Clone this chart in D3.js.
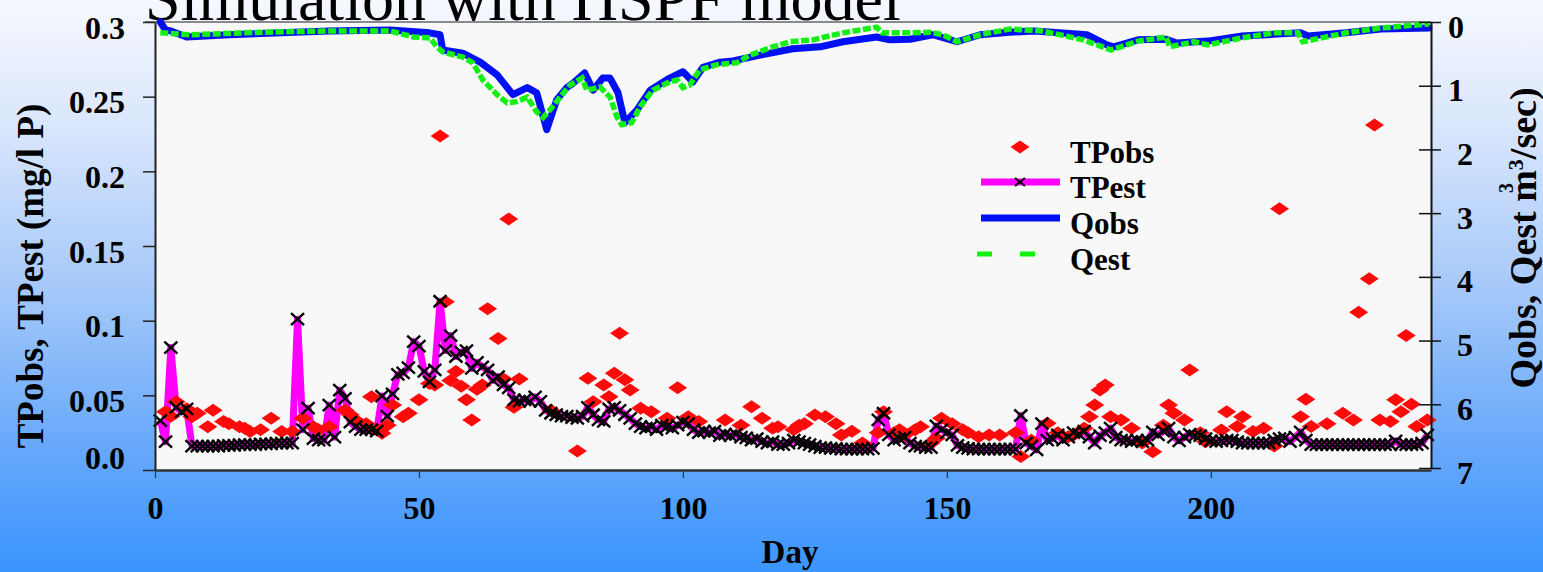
<!DOCTYPE html>
<html>
<head>
<meta charset="utf-8">
<script src="https://cdn.jsdelivr.net/npm/d3@7"></script>
<style>
  html, body { margin: 0; padding: 0; overflow: hidden; }
  svg { display: block; }
  text { font-family: "Liberation Serif", "Times New Roman", Times, serif; }
</style>
</head>
<body>
<svg id="chart" width="1543" height="572"></svg>
<script>
// ---- data ----
const xTicks = [0, 50, 100, 150, 200];
const tpTicks = [0, 0.05, 0.1, 0.15, 0.2, 0.25, 0.3];
const tpTickLabels = ["0.0", "0.05", "0.1", "0.15", "0.2", "0.25", "0.3"];
const qTicks = [0, 1, 2, 3, 4, 5, 6, 7];
const qTickLabels = ["0", "1", "2", "3", "4", "5", "6", "7"];

// simulated total phosphorus, one value per day starting at day 1 (mg/l P)
const tpEst = [
  0.033, 0.019, 0.082, 0.042, 0.039, 0.041, 0.016, 0.016, 0.016, 0.016,
  0.016, 0.016, 0.0165, 0.0165, 0.0165, 0.017, 0.017, 0.017, 0.017, 0.0175,
  0.0175, 0.0175, 0.018, 0.018, 0.018, 0.018, 0.101, 0.027, 0.0415, 0.021,
  0.020, 0.020, 0.0435, 0.022, 0.0535, 0.048, 0.032, 0.029, 0.027, 0.027,
  0.027, 0.026, 0.0495, 0.036, 0.051, 0.064, 0.065, 0.0685, 0.086, 0.083,
  0.066, 0.059, 0.067, 0.113, 0.080, 0.090, 0.076, 0.079, 0.080, 0.068,
  0.072, 0.069, 0.067, 0.060, 0.0625, 0.057, 0.055, 0.047, 0.046, 0.047,
  0.046, 0.049, 0.046, 0.040, 0.038, 0.037, 0.036, 0.036, 0.035, 0.0345,
  0.036, 0.042, 0.037, 0.0335, 0.0325, 0.041, 0.042, 0.040, 0.037, 0.0345,
  0.031, 0.029, 0.028, 0.029, 0.027, 0.030, 0.029, 0.028, 0.030, 0.032,
  0.031, 0.027, 0.025, 0.026, 0.025, 0.026, 0.023, 0.024, 0.023, 0.024,
  0.022, 0.0215, 0.020, 0.021, 0.019, 0.018, 0.019, 0.017, 0.017, 0.018,
  0.020, 0.019, 0.018, 0.017, 0.016, 0.015, 0.015, 0.0145, 0.0145, 0.014,
  0.014, 0.014, 0.014, 0.014, 0.014, 0.0145, 0.0335, 0.038, 0.0235, 0.020,
  0.021, 0.022, 0.018, 0.016, 0.016, 0.015, 0.015, 0.0295, 0.027, 0.025,
  0.0235, 0.0165, 0.015, 0.0145, 0.014, 0.014, 0.014, 0.014, 0.014, 0.014,
  0.014, 0.014, 0.014, 0.0365, 0.018, 0.016, 0.0135, 0.031, 0.020, 0.021,
  0.0235, 0.020, 0.022, 0.025, 0.024, 0.026, 0.022, 0.018, 0.023, 0.025,
  0.028, 0.022, 0.020, 0.020, 0.019, 0.020, 0.019, 0.020, 0.0255, 0.0235,
  0.026, 0.028, 0.022, 0.0195, 0.022, 0.024, 0.023, 0.023, 0.021, 0.0195,
  0.019, 0.0195, 0.020, 0.020, 0.019, 0.018, 0.018, 0.018, 0.018, 0.018,
  0.018, 0.020, 0.021, 0.0215, 0.019, 0.022, 0.0255, 0.020, 0.017, 0.017,
  0.017, 0.017, 0.017, 0.017, 0.017, 0.017, 0.017, 0.017, 0.017, 0.017,
  0.017, 0.017, 0.017, 0.017, 0.0195, 0.017, 0.017, 0.017, 0.017, 0.018,
  0.0235
];

// observed total phosphorus samples
const tpObsDay = [
  2, 3, 4, 6, 7, 8, 10, 11, 13, 14, 16, 17, 18, 20, 22, 24, 26, 28, 30, 31,
  33, 36, 37, 38, 40, 41, 42, 43, 44, 45, 47, 48, 50, 52, 53, 54, 55, 56, 57, 58,
  59, 60, 61, 62, 63, 65, 66, 67, 68, 69, 75, 80, 82, 83, 85, 86, 87, 88, 89, 90,
  92, 94, 97, 99, 101, 103, 108, 111, 113, 115, 117, 118, 121, 122, 123, 125, 127, 129, 130, 132,
  134, 137, 138, 140, 141, 142, 144, 145, 147, 148, 149, 151, 153, 154, 156, 158, 160, 163, 164, 166,
  169, 171, 173, 174, 176, 177, 178, 179, 180, 181, 183, 185, 187, 189, 191, 192, 193, 195, 196, 198,
  199, 202, 203, 205, 206, 208, 210, 212, 213, 217, 218, 219, 222, 225, 227, 228, 230, 231, 232, 234,
  235, 236, 237, 238, 239, 241
];
const tpObsVal = [
  0.039, 0.036, 0.0457, 0.041, 0.0357, 0.038, 0.029, 0.040, 0.0324, 0.031, 0.029, 0.028, 0.0257, 0.027, 0.0346, 0.0257, 0.0257, 0.0346, 0.029, 0.027,
  0.029, 0.040, 0.037, 0.0335, 0.031, 0.049, 0.027, 0.0246, 0.030, 0.0435, 0.0357, 0.038, 0.047, 0.058, 0.057, 0.2237, 0.1127, 0.060, 0.066, 0.056,
  0.047, 0.0335, 0.054, 0.057, 0.108, 0.088, 0.061, 0.168, 0.042, 0.061, 0.040, 0.0127, 0.0614, 0.0457, 0.057, 0.049, 0.0648, 0.0915, 0.0605, 0.0536,
  0.0413, 0.039, 0.0346, 0.055, 0.0357, 0.0324, 0.0335, 0.030, 0.0424, 0.0346, 0.028, 0.029, 0.027, 0.030, 0.031, 0.0368, 0.0357, 0.031, 0.0234, 0.026,
  0.018, 0.025, 0.039, 0.025, 0.027, 0.0235, 0.027, 0.029, 0.018, 0.0212, 0.0346, 0.031, 0.027, 0.025, 0.0223, 0.0235, 0.0235, 0.025, 0.009, 0.020,
  0.0313, 0.025, 0.0223, 0.0235, 0.028, 0.0357, 0.0435, 0.0536, 0.057, 0.0357, 0.0335, 0.028, 0.018, 0.0123, 0.030, 0.0435, 0.038, 0.0335, 0.067, 0.025,
  0.019, 0.0268, 0.039, 0.0292, 0.0357, 0.0257, 0.028, 0.016, 0.175, 0.0357, 0.0473, 0.0292, 0.031, 0.038, 0.0335, 0.1056, 0.128, 0.231, 0.0335, 0.0324,
  0.047, 0.039, 0.090, 0.044, 0.0292, 0.0335
];

// observed discharge (m3/sec)
const qObsDay = [1, 2, 3, 6, 14, 24, 33, 44.5, 52, 54, 54.5, 58.3, 61.6, 64.8, 67.8, 70.5, 72.3, 74.2, 76.1, 78,
  79.2, 81.4, 83, 84.8, 86.2, 87.7, 89, 91.3, 93.8, 97.5, 100, 101.9, 103.8, 107, 109.5, 114.6, 120.8, 126, 130.3, 136.7,
  139.2, 143, 147.3, 151.9, 156.3, 161.9, 166.7, 176.5, 180.3, 181.6, 186.2, 191.5, 193.6, 199.4, 205.9, 212.5, 217, 218.4, 225.6, 232.2,
  241.3];
const qObsVal = [0.0, 0.125, 0.14, 0.235, 0.20, 0.17, 0.14, 0.125, 0.17, 0.20, 0.44, 0.49, 0.63, 0.83, 1.14, 1.03, 1.11, 1.69, 1.22, 1.03,
  0.96, 0.80, 1.07, 0.88, 0.88, 1.11, 1.58, 1.38, 1.07, 0.88, 0.78, 0.94, 0.71, 0.63, 0.61, 0.52, 0.42, 0.39, 0.31, 0.235,
  0.28, 0.27, 0.20, 0.31, 0.20, 0.16, 0.14, 0.20, 0.36, 0.39, 0.28, 0.27, 0.33, 0.30, 0.22, 0.19, 0.17, 0.22, 0.17, 0.11,
  0.094];

// simulated discharge (m3/sec)
const qEstDay = [1, 6.6, 20.5, 33.1, 44.5, 48.9, 52.1, 53.4, 54.5, 58.3, 60.2, 62.1, 64.8, 66.7, 68.6, 70.5, 72.3, 73.5, 74.8, 76.7,
  78.6, 80.9, 81.8, 84.3, 86.2, 87.5, 88.4, 90.3, 91.9, 94.3, 97.5, 98.9, 100, 101.3, 103.2, 106.4, 110.2, 112.7, 117, 120.3,
  124.6, 130.3, 136.7, 137.7, 143, 146.8, 149.2, 151.9, 156.3, 161.9, 168, 175.8, 181.1, 186.2, 191.5, 192.2, 196.8, 199.4, 205.9, 211.9,
  216.5, 217.4, 225.6, 232.2, 241.3];
const qEstVal = [0.17, 0.20, 0.16, 0.14, 0.14, 0.235, 0.25, 0.39, 0.47, 0.55, 0.64, 0.91, 1.14, 1.27, 1.25, 1.18, 1.41, 1.50, 1.38, 1.18,
  0.99, 0.88, 1.07, 1.02, 1.18, 1.49, 1.61, 1.58, 1.33, 1.07, 0.94, 0.91, 1.03, 0.99, 0.75, 0.67, 0.64, 0.52, 0.39, 0.31,
  0.28, 0.17, 0.08, 0.17, 0.17, 0.16, 0.20, 0.31, 0.20, 0.11, 0.14, 0.28, 0.44, 0.30, 0.235, 0.39, 0.31, 0.36, 0.25, 0.17,
  0.17, 0.31, 0.17, 0.094, 0.03];

// ---- layout ----
const W = 1543, H = 572;
const plot = { left: 155, right: 1431, top: 22, bottom: 470 };

const svg = d3.select("#chart");

// page background: vertical light-to-blue gradient
const defs = svg.append("defs");
const bg = defs.append("linearGradient").attr("id", "bgGrad")
  .attr("x1", 0).attr("y1", 0).attr("x2", 0).attr("y2", 1);
[[0, "#f6f8fe"], [0.22, "#d9e6fc"], [0.5, "#a6c9f9"], [0.8, "#63a6fb"], [1, "#3a95fd"]]
  .forEach(([o, c]) => bg.append("stop").attr("offset", o).attr("stop-color", c));
svg.append("rect").attr("width", W).attr("height", H).attr("fill", "url(#bgGrad)");

// scales
const x = d3.scaleLinear().domain([0, 241.7]).range([plot.left, plot.right]);
const yTP = d3.scaleLinear().domain([0, 0.3]).range([plot.bottom, plot.top]);
const yQ = d3.scaleLinear().domain([0, 7]).range([plot.top, plot.bottom - 2]);

// title (runs off the top edge)
svg.append("text")
  .attr("x", 145).attr("y", 20)
  .attr("font-size", 64)
  .attr("fill", "#000")
  .text("Simulation with HSPF model");

// plot area
svg.append("rect")
  .attr("x", plot.left).attr("y", plot.top)
  .attr("width", plot.right - plot.left).attr("height", plot.bottom - plot.top)
  .attr("fill", "#f8f8f8");
svg.append("line")
  .attr("x1", plot.left - 10).attr("x2", plot.right)
  .attr("y1", plot.top).attr("y2", plot.top)
  .attr("stroke", "#8a8a8a").attr("stroke-width", 2);

// discharge lines
const qLine = d3.line().x(d => x(d[0])).y(d => yQ(d[1])).curve(d3.curveLinear);
const qObsPts = qObsDay.map((d, i) => [d, qObsVal[i]]);
const qEstPts = qEstDay.map((d, i) => [d, qEstVal[i]]);

svg.append("path").datum(qObsPts)
  .attr("d", qLine)
  .attr("fill", "none").attr("stroke", "#0010f4")
  .attr("stroke-width", 7).attr("stroke-linejoin", "round").attr("stroke-linecap", "round");
svg.append("path").datum(qEstPts)
  .attr("d", qLine)
  .attr("fill", "none").attr("stroke", "#14f014")
  .attr("stroke-width", 5.5).attr("stroke-dasharray", "8,2.5");

// simulated phosphorus line
const tpPts = tpEst.map((v, i) => [i + 1, v]);
svg.append("path").datum(tpPts)
  .attr("d", d3.line().x(d => x(d[0])).y(d => yTP(d[1])))
  .attr("fill", "none").attr("stroke", "#ff00ff")
  .attr("stroke-width", 7).attr("stroke-linejoin", "round");

// observed phosphorus diamonds
const diamond = "M0,-6.5L9.5,0L0,6.5L-9.5,0Z";
svg.append("g").selectAll("path")
  .data(tpObsDay.map((d, i) => [d, tpObsVal[i]]))
  .join("path")
  .attr("d", diamond)
  .attr("transform", d => `translate(${x(d[0])},${yTP(d[1])})`)
  .attr("fill", "#ff0a0a");

// daily markers on the simulated line
const cross = "M-6.5,-6L6.5,6M-6.5,6L6.5,-6";
svg.append("g").selectAll("path")
  .data(tpPts)
  .join("path")
  .attr("d", cross)
  .attr("transform", d => `translate(${x(d[0])},${yTP(d[1])})`)
  .attr("stroke", "#000").attr("stroke-width", 2.4).attr("fill", "none");

// ---- axes ----
const boldText = sel => sel.attr("font-family", "'Liberation Serif', 'Times New Roman', serif")
  .attr("font-weight", "bold").attr("fill", "#000");

// left axis
const axL = svg.append("g").attr("transform", `translate(${plot.left},0)`)
  .call(d3.axisLeft(yTP).tickValues(tpTicks).tickFormat((d, i) => tpTickLabels[i])
    .tickSize(12).tickSizeOuter(0).tickPadding(18));
axL.select(".domain").attr("stroke", "#222").attr("stroke-width", 2);
axL.selectAll(".tick line").attr("stroke", "#222").attr("stroke-width", 1.5);
axL.selectAll(".tick text").call(boldText).attr("font-size", 32)
  .attr("dy", (d, i) => d === 0 ? "-2px" : "16px");

// right axis
const axR = svg.append("g").attr("transform", `translate(${plot.right},0)`)
  .call(d3.axisRight(yQ).tickValues(qTicks).tickFormat((d, i) => qTickLabels[i])
    .tickSize(10).tickSizeOuter(0).tickPadding(16));
axR.select(".domain").attr("stroke", "#111").attr("stroke-width", 2);
axR.selectAll(".tick line").attr("x1", -12).attr("stroke", "#111").attr("stroke-width", 1.5);
axR.selectAll(".tick text").call(boldText).attr("font-size", 32)
  .attr("dx", d => d <= 1 ? "-9px" : "0px")
  .attr("dy", "15px");

// bottom axis
const axB = svg.append("g").attr("transform", `translate(0,${plot.bottom})`)
  .call(d3.axisBottom(x).tickValues(xTicks).tickSize(8).tickSizeOuter(0));
axB.select(".domain").attr("stroke", "#333").attr("stroke-width", 2.5);
axB.selectAll(".tick line").attr("stroke", "#333").attr("stroke-width", 1.2);
axB.selectAll(".tick text").call(boldText).attr("font-size", 32)
  .attr("y", 49).attr("dy", 0);

// axis titles
svg.append("text").call(boldText)
  .attr("font-size", 33).attr("text-anchor", "middle")
  .attr("x", 790).attr("y", 563)
  .text("Day");

svg.append("text").call(boldText)
  .attr("font-size", 37).attr("text-anchor", "middle")
  .attr("transform", "translate(43,276) rotate(-90)")
  .text("TPobs, TPest (mg/l P)");

const rt = svg.append("text").call(boldText)
  .attr("font-size", 38).attr("text-anchor", "middle")
  .attr("transform", "translate(1536,238) rotate(-90)");
rt.append("tspan").text("Qobs, Qest m");
rt.append("tspan").attr("font-size", 22).attr("dy", -13).text("3");
rt.append("tspan").attr("dy", 13).text("/sec)");
svg.append("text").call(boldText)
  .attr("font-size", 20).attr("text-anchor", "middle")
  .attr("transform", "translate(1513,188) rotate(-90)")
  .text("3");

// ---- legend ----
const lg = svg.append("g");
lg.append("path").attr("d", diamond).attr("transform", "translate(1020,147)").attr("fill", "#ff0a0a");
lg.append("line").attr("x1", 981).attr("x2", 1060).attr("y1", 182).attr("y2", 182)
  .attr("stroke", "#ff00ff").attr("stroke-width", 7);
lg.append("path").attr("d", "M-5,-4L5,4M-5,4L5,-4").attr("transform", "translate(1020,182)")
  .attr("stroke", "#000").attr("stroke-width", 2);
lg.append("line").attr("x1", 981).attr("x2", 1060).attr("y1", 218).attr("y2", 218)
  .attr("stroke", "#0010f4").attr("stroke-width", 7);
lg.append("line").attr("x1", 977).attr("x2", 992).attr("y1", 254).attr("y2", 254)
  .attr("stroke", "#14f014").attr("stroke-width", 5);
lg.append("line").attr("x1", 1020).attr("x2", 1035).attr("y1", 254).attr("y2", 254)
  .attr("stroke", "#14f014").attr("stroke-width", 5);
const legendNames = ["TPobs", "TPest", "Qobs", "Qest"];
const legendBase = [163, 198, 234, 270];
lg.selectAll("text.lbl").data(legendNames).join("text")
  .attr("class", "lbl").call(boldText)
  .attr("font-size", 31)
  .attr("x", 1070).attr("y", (d, i) => legendBase[i])
  .text(d => d);
</script>
</body>
</html>
